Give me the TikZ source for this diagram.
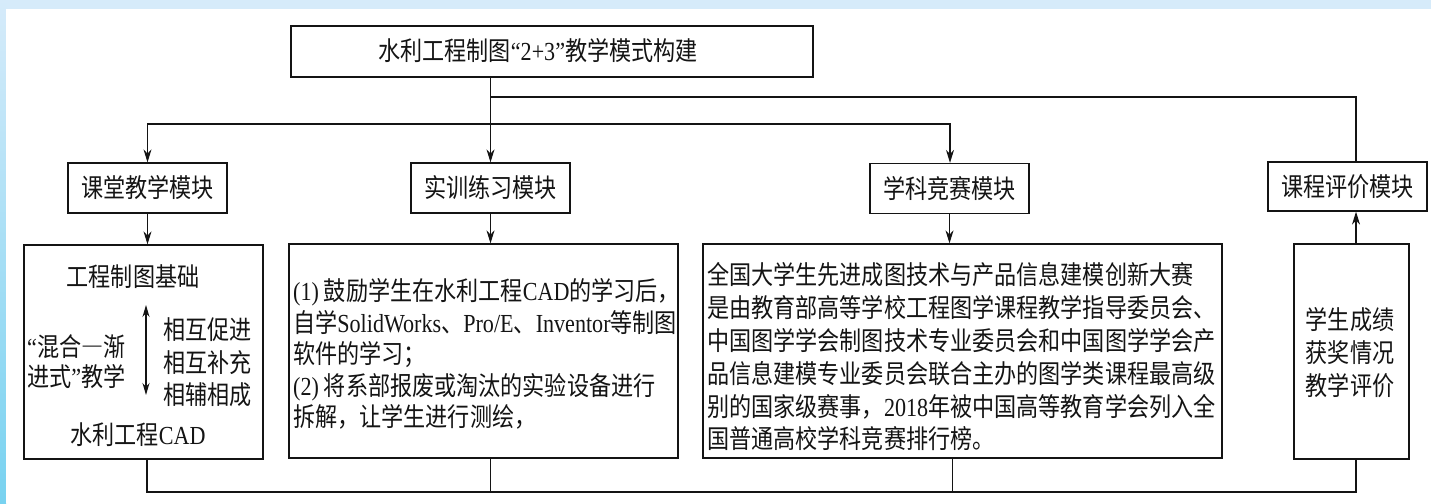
\documentclass[tikz,border=0pt]{standalone}
\usepackage{fontspec}
\setmainfont{Liberation Serif}[FakeStretch=0.85]
\newfontfamily\cjk{Noto Sans CJK SC}[FakeStretch=0.85]
\newfontfamily\cjkfw{Noto Sans CJK SC}[FakeStretch=0.85,RawFeature=+fwid]
\usetikzlibrary{arrows.meta}
\newcommand\latn[1]{{\rmfamily #1}}
\definecolor{bgblue}{RGB}{214,235,250}
\definecolor{bgcyan}{RGB}{120,210,240}
\definecolor{ink}{RGB}{20,20,20}
\tikzset{
  box/.style={draw=ink, line width=1.3pt, fill=white, inner sep=0pt},
  txt/.style={text=ink, inner sep=0pt, font=\cjk\fontsize{26}{32.8}\selectfont},
  arr/.style={draw=ink, line width=1.2pt, -{Stealth[length=13pt,width=8pt]}},
  ln/.style={draw=ink, line width=1.2pt},
  dbl/.style={draw=ink, line width=1.2pt, {Stealth[length=12pt,width=7pt]}-{Stealth[length=12pt,width=7pt]}}
}
\begin{document}
\begin{tikzpicture}[x=1pt,y=-1pt]
\useasboundingbox (0,0) rectangle (1431,503);
% slide background
\fill[bgblue] (0,0) rectangle (1431,503);
\shade[top color=bgblue, bottom color=bgcyan] (0,0) rectangle (6,503);
\fill[white] (6,9) rectangle (1431,503);

% boxes
\node[box, minimum width=522, minimum height=51] (title) at (552,51.5) {};
\node[box, minimum width=159, minimum height=50] (m1) at (147.5,188) {};
\node[box, minimum width=159, minimum height=50] (m2) at (490.5,188) {};
\node[box, minimum width=159, minimum height=50] (m3) at (949.5,188.5) {};
\node[box, minimum width=159, minimum height=49] (m4) at (1347.5,186.5) {};
\node[box, minimum width=239, minimum height=214] (b1) at (143.5,352) {};
\node[box, minimum width=389, minimum height=214] (b2) at (483.5,351) {};
\node[box, minimum width=519, minimum height=214] (b3) at (962.5,351) {};
\node[box, minimum width=115, minimum height=215] (b4) at (1351.5,351.5) {};

% texts
\node[txt] (tTitle) at (538,51) {水利工程制图\latn{“2+3”}教学模式构建};
\node[txt] (t1) at (m1) {课堂教学模块};
\node[txt] (t2) at (m2) {实训练习模块};
\node[txt] (t3) at (m3) {学科竞赛模块};
\node[txt] (t4) at (m4) {课程评价模块};

\node[txt] (b1a) at (133,277) {工程制图基础};
\node[txt, anchor=west, align=left, font=\cjk\fontsize{26}{30}\selectfont] (b1b) at (27,362) {\latn{“}混合{\cjkfw —}渐\\进式\latn{”}教学};
\node[txt, anchor=west, align=left, font=\cjk\fontsize{26}{32.5}\selectfont] (b1c) at (163,362.5) {相互促进\\相互补充\\相辅相成};
\node[txt] (b1d) at (138,435) {水利工程\latn{CAD}};
\coordinate (da1) at (146,305);
\coordinate (da2) at (146,395);
\draw[dbl] (da1) -- (da2);

\node[txt, anchor=west, align=left, font=\cjk\fontsize{26}{31.5}\selectfont] (b2t) at (293,354) {%
\latn{(1)} 鼓励学生在水利工程\latn{CAD}的学习后，\\
自学\latn{SolidWorks}、\latn{Pro/E}、\latn{Inventor}等制图\\
软件的学习；\\
\latn{(2)} 将系部报废或淘汰的实验设备进行\\
拆解，让学生进行测绘，};

\node[txt, anchor=west, align=left] (b3t) at (707,357) {%
全国大学生先进成图技术与产品信息建模创新大赛\\
是由教育部高等学校工程图学课程教学指导委员会、\\
中国图学学会制图技术专业委员会和中国图学学会产\\
品信息建模专业委员会联合主办的图学类课程最高级\\
别的国家级赛事，\latn{2018}年被中国高等教育学会列入全\\
国普通高校学科竞赛排行榜。};

\node[txt, align=center, font=\cjk\fontsize{26}{33}\selectfont] (b4t) at (1350,353) {学生成绩\\获奖情况\\教学评价};

% connectors (top)
\coordinate (j1) at (490.5,97);
\coordinate (j2) at (490.5,124);
\coordinate (b4up) at ([xshift=4.5pt]b4.north);
\draw[arr] (title.south -| m2) -- (m2.north);
\draw[ln] (j1) -| (b4up |- m4.north);
\draw[arr] (j2) -| (m1.north);
\draw[arr] (j2) -| ([xshift=0.5pt]m3.north);
\draw[arr] (m1.south) -- (m1.south |- b1.north);
\draw[arr] (m2.south) -- (m2.south |- b2.north);
\draw[arr] (m3.south) -- (m3.south |- b3.north);
\draw[arr] (b4up) -- (b4up |- m4.south);

% connectors (bottom)
\coordinate (bus) at (0,492);
\draw[ln] ([xshift=3.5pt]b1.south) |- (bus -| b4up) -- (b4up |- b4.south);
\draw[ln] (b2.south -| j1) -- (bus -| j1);
\draw[ln] ([xshift=-10pt]b3.south) -- ([xshift=-10pt]b3.south |- bus);
\end{tikzpicture}
\end{document}
